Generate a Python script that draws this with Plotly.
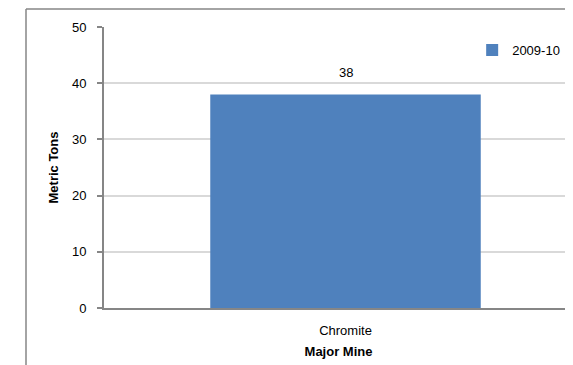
import plotly.graph_objects as go

categories = ["Chromite"]
values_2009_10 = [38]
series_name = "2009-10"
y_ticks = [0, 10, 20, 30, 40, 50]

# page body has an 8px margin, so figure coords = reference coords - 8
W, H = 565, 357
L, T, B, R = 96, 19, 57, 0

fig = go.Figure()
fig.add_trace(go.Bar(
    x=categories, y=values_2009_10, name=series_name,
    marker=dict(color="#4F81BD", line=dict(width=0)),
    width=0.56,
))

for c, v in zip(categories, values_2009_10):
    fig.add_annotation(x=c, y=v, text=str(v), showarrow=False,
                       yanchor="bottom", yshift=12,
                       font=dict(size=13, color="#000000"))

font = "Liberation Sans, Arial, sans-serif"
fig.update_layout(
    width=W, height=H,
    margin=dict(l=L, r=R, t=T, b=B),
    paper_bgcolor="white", plot_bgcolor="white",
    font=dict(family=font, size=13, color="#000000"),
    showlegend=True,
    legend=dict(x=0.785, y=0.918, xanchor="left", yanchor="middle",
                bgcolor="rgba(0,0,0,0)", font=dict(size=13),
                itemwidth=30, tracegroupgap=0),
    xaxis=dict(
        range=[-0.5, 0.471], showgrid=False,
        showline=True, linecolor="#868686", linewidth=2,
        ticks="", tickfont=dict(size=13), ticklabelstandoff=9,
        title=dict(text="<b>Major Mine</b>", font=dict(size=13), standoff=10),
    ),
    yaxis=dict(
        range=[0, 50], tickvals=y_ticks,
        showgrid=True, gridcolor="#D9D9D9", gridwidth=1.5,
        showline=True, linecolor="#868686", linewidth=2,
        ticks="outside", ticklen=5, tickcolor="#868686", tickwidth=1.5,
        ticklabelstandoff=8,
        tickfont=dict(size=13), zeroline=False,
        title=dict(text="<b>Metric Tons</b>", font=dict(size=13), standoff=10),
    ),
)

# outer chart-area border (top and left edges visible)
pw = W - L - R
ph = H - T - B
x_left = (18 - L) / pw
y_top = (H - B - 1) / ph
fig.add_shape(type="line", xref="paper", yref="paper",
              x0=x_left, x1=1.2, y0=y_top, y1=y_top,
              line=dict(color="#868686", width=1.5))
fig.add_shape(type="line", xref="paper", yref="paper",
              x0=x_left, x1=x_left, y0=y_top, y1=-0.5,
              line=dict(color="#868686", width=1.5))

fig.write_html("out.html")
